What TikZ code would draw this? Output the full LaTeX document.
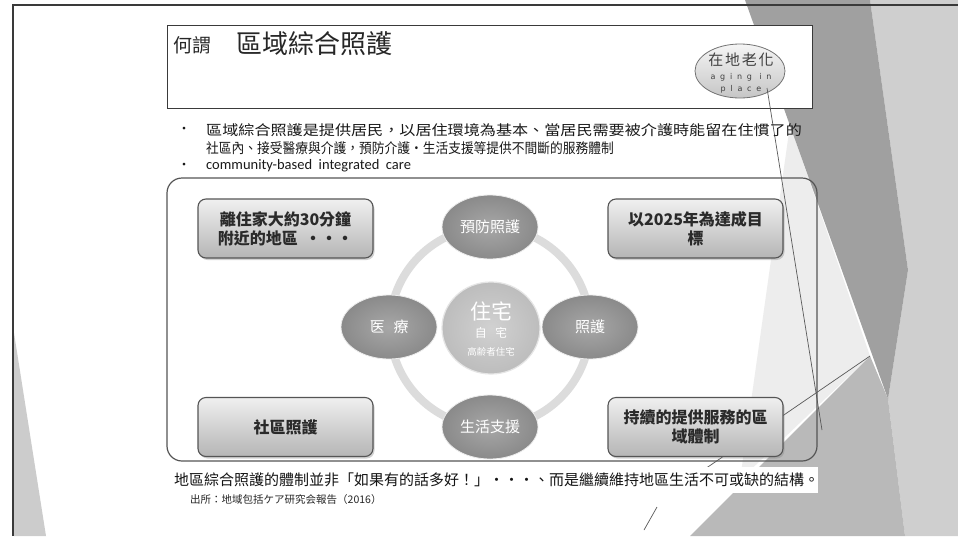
\documentclass[tikz,border=0pt]{standalone}
\usepackage{fontspec}
\setmainfont{Noto Sans CJK TC}
\newfontfamily\latinf{Carlito}
\newfontfamily\spacedf[LetterSpace=60]{DejaVu Sans}
\newfontfamily\spacedcjk[LetterSpace=12]{Noto Sans CJK TC}
\usetikzlibrary{shapes.geometric,shadows}
\definecolor{framec}{HTML}{3A3A3A}
\definecolor{bglight}{HTML}{CFCFCF}
\definecolor{bgmid}{HTML}{B9B9B9}
\definecolor{bgdark}{HTML}{A0A0A0}
\definecolor{bgfaint}{HTML}{EDEDED}
\definecolor{txt}{HTML}{2A2A2A}
\definecolor{ellc}{HTML}{8A8A8A}
\definecolor{ringc}{HTML}{DCDCDC}
\definecolor{boxedge}{HTML}{555555}
\tikzset{
  fs/.style={font=\fontsize{#1}{#1}\selectfont},
  sqbox/.style={rounded corners=8, draw=boxedge, line width=1.1, top color=gray!12, bottom color=gray!58,
    minimum width=175, minimum height=59, align=center, text=txt, inner sep=2,
    drop shadow={opacity=0.35, shadow xshift=1.5pt, shadow yshift=-2pt},
    font=\bfseries\fontsize{16}{19}\selectfont},
  petal/.style={ellipse, minimum width=96, minimum height=64, inner sep=0, draw=white!85!gray, line width=0.8,
    inner color=ellc!75!white, outer color=ellc, text=white, font=\fontsize{15}{18}\selectfont},
  hometext/.style={text=white, inner sep=0},
  aiptext/.style={text=black!75, inner sep=0},
  thinline/.style={draw=black!65, line width=0.7}
}
\begin{document}
\begin{tikzpicture}[x=1pt,y=-1pt]
\useasboundingbox (0,0) rectangle (958,536);
\fill[white] (0,0) rectangle (958,536);
% background facets
\fill[bglight] (870,0) -- (958,0) -- (958,536) -- (905,536) -- (888,399) -- (908,270) -- cycle;
\fill[bgfaint] (790,125) -- (870,356) -- (740,480) -- cycle;
\fill[bgmid] (870,356) -- (888,399) -- (905,536) -- (690,536) -- cycle;
\fill[bgdark] (745,0) -- (870,0) -- (908,270) -- (888,399) -- cycle;
\fill[gray!40] (14,333) -- (46,536) -- (14,536) -- cycle;
% slide frame
\coordinate (fa) at (13,536);
\coordinate (fb) at (13,5);
\coordinate (fc) at (958,5);
\draw[framec, line width=1.6] (fa) -- (fb) -- (fc);
% thin lines
\coordinate (la) at (870,356);
\coordinate (lb) at (702,471);
\draw[thinline] (la) -- (lb);
\coordinate (sa) at (657,507);
\coordinate (sb) at (644,530);
\draw[thinline] (sa) -- (sb);
% title box
\node[draw=framec, line width=1.2, fill=white, minimum width=645, minimum height=83, anchor=north west, inner sep=0] (titlebox) at (167,25) {};
\node[anchor=west, fs=19, text=black!85] (ho) at (170,45) {何謂};
\node[anchor=west, fs=26, text=black!85] (title) at (233,44) {區域綜合照護};
\node[ellipse, draw=black!55, line width=0.8, top color=gray!8, bottom color=gray!45, minimum width=90, minimum height=54, inner sep=0] (aip) at (740,71) {};
\node[aiptext, font=\spacedcjk\fontsize{15}{15}\selectfont] (aip1) at (741,60) {在地老化};
\node[aiptext, font=\spacedf\fontsize{8}{8}\selectfont] (aip2) at (741,77) {aging in};
\node[aiptext, font=\spacedf\fontsize{8}{8}\selectfont] (aip3) at (741,89) {place};
\coordinate (l1a) at (767,88);
\coordinate (l1b) at (822,430);
\draw[thinline] (l1a) -- (l1b);
% bullets
\node[fs=13, text=black!90, inner sep=0] (b1) at (184,130) {•};
\node[anchor=west, fs=14, text=black!90, inner sep=0] (t1) at (206,130) {\scalebox{1.15}[1]{區域綜合照護是提供居民，以居住環境為基本、當居民需要被介護時能留在住慣了的}};
\node[anchor=west, fs=14, text=black!90, inner sep=0] (t2) at (206,148) {\scalebox{0.91}[1]{社區內、接受醫療與介護，預防介護‧生活支援等提供不間斷的服務體制}};
\node[fs=13, text=black!90, inner sep=0] (b2) at (184,166) {•};
\node[anchor=west, text=black!90, inner sep=0, font=\latinf\fontsize{14.5}{17}\selectfont] (t3) at (206,166) {community-based\ \ integrated\ \ care};
% content box
\node[draw=boxedge, line width=1.2, rounded corners=15, minimum width=650, minimum height=283, inner sep=0] (content) at (492,319.5) {};
% ring
\node[circle, draw=ringc, line width=8, minimum size=200, inner sep=0] (ring) at (490,327) {};
% petals
\node[petal] (yobo) at (490,227) {預防照護};
\node[petal] (iryo) at (389,327) {医\hspace{0.6em}療};
\node[petal] (kaigo) at (590,327) {照護};
\node[petal] (seikatsu) at (490,427) {生活支援};
\node[ellipse, minimum width=98, minimum height=92, inner sep=0, draw=white!80!gray, line width=1.2,
  inner color=gray!36, outer color=gray!52] (home) at (491,328) {};
\node[hometext, font=\fontsize{21}{21}\selectfont] (home1) at (491,311) {住宅};
\node[hometext, font=\fontsize{12}{12}\selectfont] (home2) at (491,333) {自\hspace{0.7em}宅};
\node[hometext, font=\fontsize{9.5}{9.5}\selectfont] (home3) at (491,352) {高齢者住宅};
% corner boxes
\node[sqbox] (area) at (285.5,228.5) {離住家大約30分鐘\\附近的地區\ \ ・・・};
\node[sqbox] (goal) at (695.5,228.5) {以2025年為達成目\\標};
\node[sqbox] (comm) at (285.5,427) {社區照護};
\node[sqbox] (sys) at (695.5,427) {持續的提供服務的區\\域體制};
% bottom text
\fill[white] (170,467) rectangle (818,493);
\node[anchor=west, inner sep=0, text=black!92, fs=15] (concl) at (174,480)
  {地區綜合照護的體制並非「如果有的話多好！」‧‧‧、而是繼續維持地區生活不可或缺的結構。};
\node[anchor=west, inner sep=0, text=black!85, fs=10.5] (src) at (190,500) {出所：地域包括ケア研究会報告（2016）};
\end{tikzpicture}
\end{document}
